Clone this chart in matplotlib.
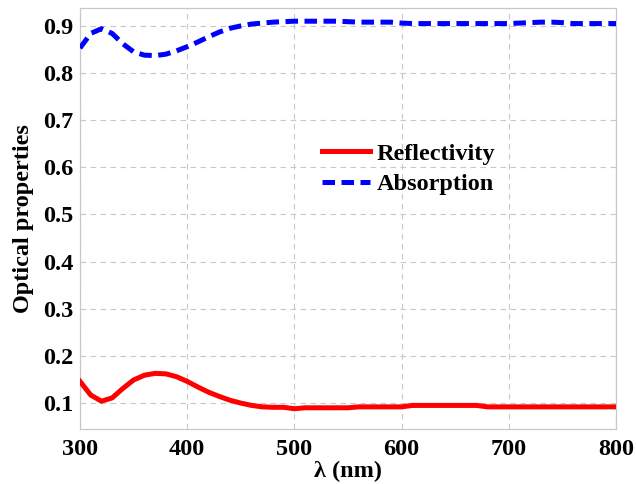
import matplotlib
matplotlib.use("Agg")
import matplotlib.pyplot as plt
import numpy as np

wl = [300, 310, 320, 330, 340, 350, 360, 370, 380, 390, 400, 410, 420, 430, 440, 450,
      460, 470, 480, 490, 500, 510, 520, 530, 540, 550, 560, 570, 580, 590, 600, 610,
      620, 630, 640, 650, 660, 670, 680, 690, 700, 710, 720, 730, 740, 750, 760, 770,
      780, 790, 800]
reflectivity = [0.146, 0.117, 0.104, 0.111, 0.131, 0.149, 0.159, 0.163, 0.162, 0.156,
                0.146, 0.134, 0.123, 0.114, 0.106, 0.100, 0.095, 0.092, 0.091, 0.091,
                0.088, 0.090, 0.090, 0.090, 0.090, 0.090, 0.092, 0.092, 0.092, 0.092,
                0.092, 0.095, 0.095, 0.095, 0.095, 0.095, 0.095, 0.095, 0.092, 0.092,
                0.092, 0.092, 0.092, 0.092, 0.092, 0.092, 0.092, 0.092, 0.092, 0.092, 0.092]
absorption = [0.853, 0.884, 0.894, 0.884, 0.862, 0.845, 0.838, 0.837, 0.840, 0.847,
              0.856, 0.866, 0.877, 0.887, 0.895, 0.900, 0.904, 0.906, 0.908, 0.909,
              0.910, 0.910, 0.910, 0.910, 0.910, 0.909, 0.908, 0.908, 0.908, 0.908,
              0.906, 0.905, 0.905, 0.905, 0.905, 0.905, 0.905, 0.905, 0.905, 0.905,
              0.905, 0.906, 0.907, 0.908, 0.908, 0.907, 0.905, 0.905, 0.905, 0.905, 0.905]

plt.rcParams['font.family'] = ['Liberation Serif', 'DejaVu Serif']
plt.rcParams['font.weight'] = 'bold'

FS = 17.5
fig = plt.figure(figsize=(6.36, 4.84), dpi=100)
ax = fig.add_axes([80/636, 1 - 429/484, 536/636, 421/484])

ax.plot(wl, reflectivity, color='#ff0000', lw=3.6, label='Reflectivity', zorder=3)
ax.plot(wl, absorption, color='#0000ff', lw=3.6, ls=(0, (2.5, 1.3)), label='Absorption', zorder=3)

ax.set_xlim(300, 800)
ax.set_ylim(0.045, 0.938)
ax.set_xticks([300, 400, 500, 600, 700, 800])
ax.set_yticks([0.1, 0.2, 0.3, 0.4, 0.5, 0.6, 0.7, 0.8, 0.9])
ax.grid(True, color='#c8c8c8', ls=(0, (5, 4)), lw=0.8)
for s in ax.spines.values():
    s.set_color('#c8c8c8')
    s.set_linewidth(0.9)
ax.tick_params(axis='x', length=0, labelsize=FS, pad=7)
ax.tick_params(axis='y', length=0, labelsize=FS, pad=5)
for lab in ax.get_xticklabels() + ax.get_yticklabels():
    lab.set_fontweight('bold')
ax.set_xlabel('λ (nm)', fontsize=FS, fontweight='bold', labelpad=1)
ax.set_ylabel('Optical properties', fontsize=FS, fontweight='bold', labelpad=6)

leg = ax.legend(loc='upper left', bbox_to_anchor=(0.451, 0.68), frameon=False,
                handlelength=2.0, handletextpad=0.25, labelspacing=0.36,
                borderaxespad=0, borderpad=0,
                prop={'weight': 'bold', 'size': FS})

fig.savefig('out.png', dpi=100)
